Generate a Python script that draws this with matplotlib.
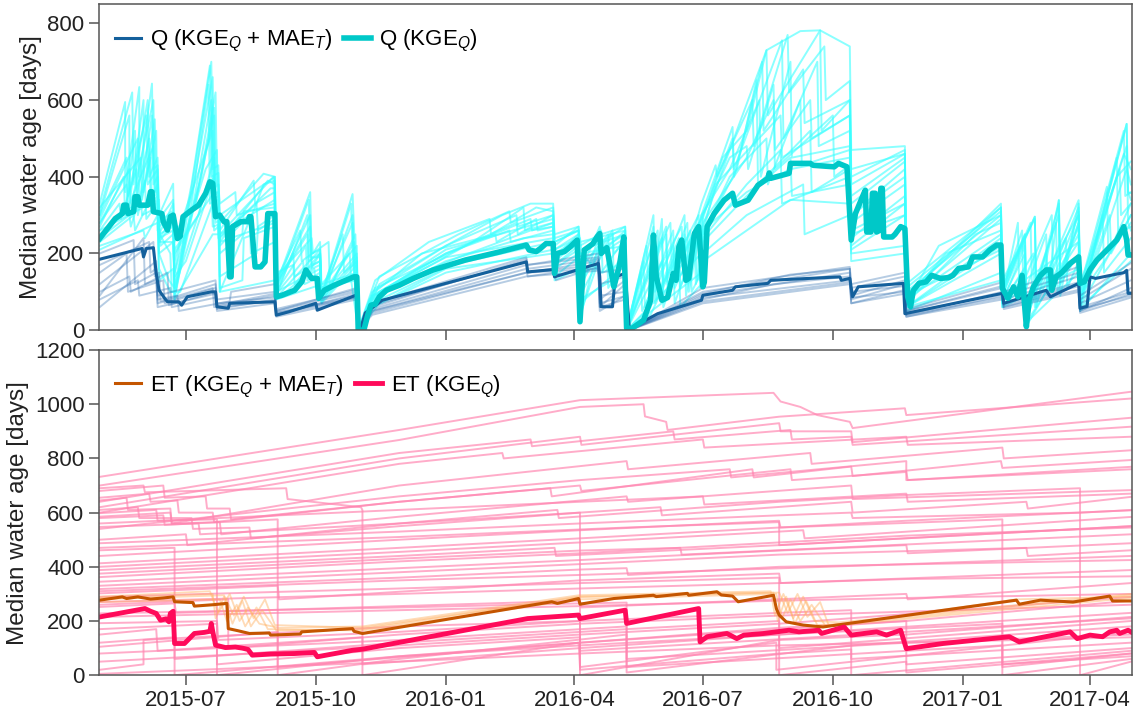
import numpy as np
import pandas as pd
import matplotlib
matplotlib.use('Agg')
import matplotlib.pyplot as plt
import matplotlib.dates as mdates

plt.rcParams['font.family'] = ['Liberation Sans', 'DejaVu Sans']
plt.rcParams['mathtext.fontset'] = 'custom'
plt.rcParams['mathtext.rm'] = 'Liberation Sans'
plt.rcParams['mathtext.it'] = 'Liberation Sans:italic'

# ===========================
# Data: (date, median water age [days]) breakpoints

# Q median, KGE_Q + MAE_T
q_kge_mae = [("2015-05-01",185),("2015-05-31",213),("2015-06-01",191),("2015-06-03",213),("2015-06-08",215),
    ("2015-06-10",148),("2015-06-12",104),("2015-06-16",83),("2015-06-18",74),("2015-06-26",74),("2015-06-28",65),
    ("2015-07-02",87),("2015-07-19",100),("2015-07-22",100),("2015-07-23",61),("2015-07-31",57),("2015-08-01",70),
    ("2015-09-02",74),("2015-09-03",39),("2015-09-12",48),("2015-10-01",70),("2015-10-02",52),("2015-10-30",92),
    ("2015-10-31",0),("2015-11-02",8),("2015-11-05",45),("2015-11-17",78),("2016-02-27",178),("2016-02-28",152),
    ("2016-03-17",158),("2016-03-18",139),("2016-04-18",174),("2016-04-19",139),("2016-04-20",61),("2016-04-28",61),
    ("2016-04-30",139),("2016-05-07",148),("2016-05-10",0),("2016-05-13",9),("2016-05-30",43),("2016-06-30",78),
    ("2016-07-01",91),("2016-07-22",104),("2016-07-24",113),("2016-08-16",122),("2016-08-18",130),("2016-10-06",139),
    ("2016-10-07",130),("2016-10-13",135),("2016-10-15",87),("2016-10-19",113),("2016-11-20",122),("2016-11-21",43),
    ("2017-01-29",96),("2017-01-30",70),("2017-03-01",104),("2017-03-04",87),("2017-03-24",122),("2017-03-25",57),
    ("2017-03-30",62),("2017-04-01",139),("2017-04-05",135),("2017-04-25",150),("2017-04-27",156),("2017-04-28",96),
    ("2017-04-30",96)]

# Q median, KGE_Q
q_kge = [("2015-05-01",239),("2015-05-12",291),("2015-05-17",304),("2015-05-18",326),("2015-05-20",326),
    ("2015-05-21",304),("2015-05-25",309),("2015-05-26",348),("2015-05-28",348),("2015-05-29",326),("2015-06-04",326),
    ("2015-06-06",361),("2015-06-07",361),("2015-06-08",309),("2015-06-14",304),("2015-06-15",283),("2015-06-18",261),
    ("2015-06-20",296),("2015-06-22",300),("2015-06-25",239),("2015-06-27",245),("2015-06-29",296),("2015-07-05",313),
    ("2015-07-10",326),("2015-07-15",357),("2015-07-18",387),("2015-07-20",383),("2015-07-22",296),("2015-07-25",300),
    ("2015-07-28",283),("2015-07-30",283),("2015-08-01",139),("2015-08-02",139),("2015-08-03",270),("2015-08-09",283),
    ("2015-08-14",283),("2015-08-15",296),("2015-08-16",296),("2015-08-19",165),("2015-08-23",165),("2015-08-26",178),
    ("2015-08-28",304),("2015-09-02",304),("2015-09-03",87),("2015-09-07",91),("2015-09-16",104),("2015-09-21",126),
    ("2015-09-24",157),("2015-09-28",135),("2015-10-02",135),("2015-10-03",83),("2015-10-07",104),("2015-10-14",117),
    ("2015-10-28",139),("2015-10-30",139),("2015-10-31",0),("2015-11-04",0),("2015-11-07",43),("2015-11-09",65),
    ("2015-11-12",68),("2015-11-15",87),("2015-11-20",104),("2015-11-29",117),("2015-12-09",135),("2015-12-23",157),
    ("2016-01-15",183),("2016-02-08",204),("2016-02-27",222),("2016-02-29",209),("2016-03-05",205),("2016-03-08",213),
    ("2016-03-12",226),("2016-03-17",226),("2016-03-18",148),("2016-03-20",200),("2016-03-25",205),("2016-03-29",217),
    ("2016-04-03",235),("2016-04-05",22),("2016-04-08",209),("2016-04-14",225),("2016-04-17",243),("2016-04-19",252),
    ("2016-04-20",200),("2016-04-24",215),("2016-04-29",113),("2016-05-03",170),("2016-05-06",243),("2016-05-08",5),
    ("2016-05-12",5),("2016-05-20",26),("2016-05-25",78),("2016-05-27",248),("2016-05-29",139),("2016-06-02",78),
    ("2016-06-06",85),("2016-06-10",148),("2016-06-12",130),("2016-06-14",217),("2016-06-16",235),("2016-06-19",130),
    ("2016-06-21",135),("2016-06-25",252),("2016-06-28",270),("2016-07-01",113),("2016-07-02",125),("2016-07-04",270),
    ("2016-07-09",304),("2016-07-16",339),("2016-07-22",357),("2016-07-24",326),("2016-08-02",339),("2016-08-09",378),
    ("2016-08-16",396),("2016-08-17",410),("2016-08-18",396),("2016-08-31",409),("2016-09-01",435),("2016-09-15",435),
    ("2016-09-17",430),("2016-10-02",426),("2016-10-05",435),("2016-10-11",426),("2016-10-14",235),("2016-10-17",304),
    ("2016-10-23",357),("2016-10-24",365),("2016-10-25",256),("2016-10-28",256),("2016-10-29",357),("2016-10-31",357),
    ("2016-11-01",256),("2016-11-03",260),("2016-11-04",370),("2016-11-05",370),("2016-11-06",243),("2016-11-12",243),
    ("2016-11-14",250),("2016-11-18",270),("2016-11-21",265),("2016-11-23",87),("2016-11-25",61),("2016-11-27",104),
    ("2016-12-01",122),("2016-12-06",126),("2016-12-10",143),("2016-12-16",135),("2016-12-22",137),("2016-12-25",143),
    ("2016-12-29",161),("2017-01-05",165),("2017-01-08",191),("2017-01-15",191),("2017-01-20",209),("2017-01-25",222),
    ("2017-01-28",222),("2017-01-29",109),("2017-02-02",83),("2017-02-06",113),("2017-02-09",87),("2017-02-12",143),
    ("2017-02-15",9),("2017-02-17",80),("2017-02-20",113),("2017-02-25",143),("2017-03-01",157),("2017-03-04",157),
    ("2017-03-05",104),("2017-03-08",139),("2017-03-12",150),("2017-03-18",174),("2017-03-24",191),("2017-03-25",122),
    ("2017-03-28",126),("2017-04-01",157),("2017-04-06",183),("2017-04-13",209),("2017-04-20",235),("2017-04-25",270),
    ("2017-04-27",235),("2017-04-28",196),("2017-04-30",196)]

# ET median, KGE_Q + MAE_T
et_kge_mae = [("2015-05-01",277),("2015-05-17",289),("2015-05-20",283),("2015-05-28",289),("2015-06-06",281),
    ("2015-06-15",285),("2015-06-22",289),("2015-06-23",271),("2015-07-06",268),("2015-07-07",255),("2015-07-20",260),
    ("2015-07-30",265),("2015-07-31",172),("2015-08-07",164),("2015-08-15",154),("2015-08-29",156),("2015-08-30",148),
    ("2015-09-20",152),("2015-09-21",160),("2015-10-27",172),("2015-10-28",162),("2015-11-03",154),("2016-03-16",271),
    ("2016-03-20",265),("2016-04-04",283),("2016-04-05",262),("2016-04-29",283),("2016-05-27",295),("2016-05-29",290),
    ("2016-06-20",302),("2016-06-21",295),("2016-07-11",308),("2016-07-14",296),("2016-07-22",292),("2016-07-26",271),
    ("2016-08-20",295),("2016-08-22",246),("2016-08-24",222),("2016-08-29",197),("2016-09-10",185),("2016-09-24",178),
    ("2017-02-08",277),("2017-02-10",262),("2017-02-25",277),("2017-03-20",270),("2017-04-15",292),("2017-04-17",274),
    ("2017-04-30",274)]

# ET median, KGE_Q
et_kge = [("2015-05-01",215),("2015-06-02",246),("2015-06-06",236),("2015-06-10",228),("2015-06-13",203),
    ("2015-06-17",208),("2015-06-19",197),("2015-06-20",228),("2015-06-22",236),("2015-06-23",117),("2015-06-30",117),
    ("2015-07-07",154),("2015-07-14",158),("2015-07-18",162),("2015-07-19",191),("2015-07-20",162),("2015-07-22",111),
    ("2015-07-29",102),("2015-08-05",104),("2015-08-10",100),("2015-08-14",95),("2015-08-17",74),("2015-08-30",78),
    ("2015-09-16",80),("2015-09-30",84),("2015-10-02",68),("2015-10-27",92),("2015-11-03",96),("2016-02-28",209),
    ("2016-04-04",222),("2016-04-05",209),("2016-05-07",240),("2016-05-08",191),("2016-06-28",246),("2016-06-29",123),
    ("2016-07-04",142),("2016-07-18",154),("2016-07-25",135),("2016-07-30",148),("2016-08-13",154),("2016-08-31",166),
    ("2016-09-07",160),("2016-09-21",166),("2016-09-23",154),("2016-10-09",178),("2016-10-14",148),("2016-11-01",160),
    ("2016-11-08",148),("2016-11-18",166),("2016-11-22",98),("2016-12-18",117),("2017-02-03",142),("2017-02-10",123),
    ("2017-03-18",160),("2017-03-23",135),("2017-04-01",148),("2017-04-10",142),("2017-04-15",160),("2017-04-20",166),
    ("2017-04-22",154),("2017-04-28",166),("2017-04-30",160)]

# ensemble members (KGE_Q), discharge
q_members = [
    [("2015-05-01",330),("2015-05-19",595),("2015-05-19",360),("2015-05-29",634),("2015-05-29",400),("2015-06-07",643),
     ("2015-06-08",420),("2015-06-11",430),("2015-06-12",240),("2015-06-22",290),("2015-06-23",80),("2015-07-02",300),
     ("2015-07-19",700),("2015-07-20",420),("2015-07-24",430),("2015-07-25",250),("2015-09-01",400),("2015-09-03",120),
     ("2015-09-27",360),("2015-09-28",200),("2015-10-04",210),("2015-10-05",90),("2015-10-27",355),("2015-10-31",0),
     ("2015-11-15",120),("2016-01-01",220),("2016-02-10",300),("2016-03-01",330),("2016-03-17",330),("2016-03-18",230),
     ("2016-04-04",260),("2016-04-05",30),("2016-04-20",250),("2016-05-07",270),("2016-05-08",0),("2016-05-25",60),
     ("2016-06-02",290),("2016-06-03",120),("2016-06-20",280),("2016-06-21",100),("2016-06-30",280),("2016-07-15",450),
     ("2016-08-01",520),("2016-08-15",730),("2016-09-08",780),("2016-09-22",782),("2016-10-13",740),("2016-10-14",470),
     ("2016-11-21",480),("2016-11-22",90),("2017-01-28",330),("2017-01-29",110),("2017-02-21",296),("2017-02-22",60),
     ("2017-03-10",339),("2017-03-11",90),("2017-03-24",330),("2017-03-25",80),("2017-04-27",538),("2017-04-28",360),
     ("2017-04-30",357)],
    [("2015-05-01",300),("2015-05-22",560),("2015-05-22",330),("2015-06-01",600),("2015-06-01",360),("2015-06-10",520),
     ("2015-06-11",260),("2015-06-20",200),("2015-06-21",100),("2015-06-24",100),("2015-07-03",280),("2015-07-17",640),
     ("2015-07-18",330),("2015-07-24",340),("2015-07-25",100),("2015-08-20",330),("2015-08-25",380),("2015-09-02",390),
     ("2015-09-03",90),("2015-09-25",300),("2015-09-26",180),("2015-10-04",200),("2015-10-05",70),("2015-10-28",230),
     ("2015-10-31",0),("2015-11-10",90),("2016-01-01",200),("2016-02-20",280),("2016-02-21",250),("2016-03-17",300),
     ("2016-03-18",170),("2016-04-04",220),("2016-04-05",200),("2016-04-20",150),("2016-05-07",240),("2016-05-08",0),
     ("2016-05-28",250),("2016-05-29",80),("2016-06-18",250),("2016-06-19",90),("2016-06-30",300),("2016-07-20",420),
     ("2016-08-10",600),("2016-08-11",400),("2016-09-01",700),("2016-09-02",450),("2016-10-13",480),("2016-10-14",300),
     ("2016-11-21",400),("2016-11-22",70),("2017-01-10",250),("2017-01-28",280),("2017-01-29",90),("2017-02-14",250),
     ("2017-02-15",20),("2017-03-01",200),("2017-03-02",100),("2017-03-24",300),("2017-03-25",70),("2017-04-20",400),
     ("2017-04-30",440)],
    [("2015-05-01",260),("2015-05-15",330),("2015-05-16",290),("2015-05-27",420),("2015-05-28",300),("2015-06-06",450),
     ("2015-06-07",320),("2015-06-12",340),("2015-06-13",220),("2015-06-22",250),("2015-06-23",120),("2015-07-01",250),
     ("2015-07-15",420),("2015-07-23",470),("2015-07-24",240),("2015-08-20",330),("2015-08-21",260),("2015-09-02",290),
     ("2015-09-03",100),("2015-09-24",220),("2015-09-25",130),("2015-10-04",150),("2015-10-05",70),("2015-10-30",170),
     ("2015-10-31",0),("2015-11-20",110),("2016-01-10",190),("2016-03-01",260),("2016-03-17",270),("2016-03-18",190),
     ("2016-04-04",250),("2016-04-05",120),("2016-04-28",250),("2016-04-29",120),("2016-05-07",200),("2016-05-08",0),
     ("2016-05-20",180),("2016-05-21",60),("2016-06-10",260),("2016-06-11",110),("2016-06-30",260),("2016-07-01",250),
     ("2016-07-25",420),("2016-08-08",652),("2016-08-09",380),("2016-09-15",520),("2016-09-16",360),("2016-10-13",420),
     ("2016-10-14",220),("2016-11-21",330),("2016-11-22",60),("2017-01-28",240),("2017-01-29",70),("2017-02-14",220),
     ("2017-02-15",10),("2017-03-24",250),("2017-03-25",60),("2017-04-27",420),("2017-04-30",380)],
    [("2015-05-01",220),("2015-06-01",260),("2015-06-02",240),("2015-06-11",300),("2015-06-12",160),("2015-06-20",100),
     ("2015-06-27",100),("2015-07-20",330),("2015-07-21",260),("2015-07-24",270),("2015-07-25",110),("2015-08-10",130),
     ("2015-08-11",240),("2015-09-02",270),("2015-09-03",80),("2015-09-30",160),("2015-10-01",110),("2015-10-30",130),
     ("2015-10-31",0),("2015-11-10",60),("2016-01-01",150),("2016-03-17",210),("2016-03-18",160),("2016-04-04",200),
     ("2016-04-05",70),("2016-05-07",170),("2016-05-08",0),("2016-05-25",40),("2016-06-14",200),("2016-06-15",60),
     ("2016-06-30",120),("2016-07-01",200),("2016-08-01",300),("2016-09-10",380),("2016-09-11",250),("2016-10-13",300),
     ("2016-10-14",200),("2016-11-21",220),("2016-11-22",50),("2017-01-28",150),("2017-01-29",60),("2017-02-14",120),
     ("2017-02-15",20),("2017-03-24",150),("2017-03-25",50),("2017-04-30",200)],
    [("2015-05-01",310),("2015-05-24",620),("2015-05-25",380),("2015-06-04",600),("2015-06-05",400),("2015-06-11",450),
     ("2015-06-12",300),("2015-06-22",382),("2015-06-23",150),("2015-07-05",380),("2015-07-18",690),("2015-07-19",400),
     ("2015-07-24",410),("2015-07-25",280),("2015-08-25",408),("2015-09-02",400),("2015-09-03",130),("2015-09-20",260),
     ("2015-09-21",180),("2015-10-10",230),("2015-10-11",110),("2015-10-29",250),("2015-10-31",0),("2015-11-12",130),
     ("2015-12-20",230),("2016-02-01",290),("2016-02-02",250),("2016-03-05",320),("2016-03-17",310),("2016-03-18",220),
     ("2016-04-04",270),("2016-04-05",150),("2016-04-19",270),("2016-04-20",200),("2016-05-07",240),("2016-05-08",0),
     ("2016-05-27",270),("2016-05-28",100),("2016-06-18",300),("2016-06-19",140),("2016-06-30",300),("2016-07-22",530),
     ("2016-07-23",420),("2016-08-26",756),("2016-08-27",500),("2016-09-20",700),("2016-09-21",480),("2016-10-13",520),
     ("2016-10-14",400),("2016-11-21",470),("2016-11-22",100),("2017-01-28",300),("2017-01-29",100),("2017-02-21",296),
     ("2017-02-22",80),("2017-03-24",339),("2017-03-25",110),("2017-04-13",374),("2017-04-14",200),("2017-04-30",330)],
    [("2015-05-01",280),("2015-05-20",380),("2015-05-21",320),("2015-06-08",480),("2015-06-09",350),("2015-06-11",360),
     ("2015-06-12",200),("2015-06-22",230),("2015-06-23",90),("2015-07-03",260),("2015-07-21",560),("2015-07-22",320),
     ("2015-07-24",320),("2015-07-25",220),("2015-08-15",300),("2015-08-16",200),("2015-09-02",230),("2015-09-03",110),
     ("2015-09-27",300),("2015-09-28",160),("2015-10-04",170),("2015-10-05",80),("2015-10-27",300),("2015-10-28",180),
     ("2015-10-31",0),("2015-11-15",100),("2016-01-01",200),("2016-02-15",260),("2016-02-16",230),("2016-03-17",260),
     ("2016-03-18",210),("2016-04-04",240),("2016-04-05",180),("2016-04-28",230),("2016-05-07",250),("2016-05-08",0),
     ("2016-06-02",240),("2016-06-03",90),("2016-06-25",250),("2016-06-26",120),("2016-06-30",180),("2016-07-01",280),
     ("2016-08-01",450),("2016-08-20",600),("2016-08-21",420),("2016-10-01",560),("2016-10-02",400),("2016-10-13",430),
     ("2016-10-14",280),("2016-11-21",380),("2016-11-22",80),("2016-12-20",200),("2017-01-28",260),("2017-01-29",80),
     ("2017-02-14",200),("2017-02-15",30),("2017-03-01",170),("2017-03-02",90),("2017-03-10",339),("2017-03-11",120),
     ("2017-03-24",200),("2017-03-25",70),("2017-04-27",538),("2017-04-28",280),("2017-04-30",260)],
    [("2015-05-01",240),("2015-05-22",300),("2015-05-23",270),("2015-06-02",390),("2015-06-03",290),("2015-06-11",330),
     ("2015-06-12",240),("2015-06-22",260),("2015-06-23",200),("2015-07-10",300),("2015-07-21",450),("2015-07-22",300),
     ("2015-07-24",300),("2015-07-25",250),("2015-09-02",340),("2015-09-03",150),("2015-09-15",170),("2015-09-16",120),
     ("2015-10-04",200),("2015-10-05",90),("2015-10-30",200),("2015-10-31",0),("2015-11-08",80),("2016-01-01",210),
     ("2016-03-17",290),("2016-03-18",240),("2016-04-04",260),("2016-04-05",40),("2016-04-20",200),("2016-05-07",260),
     ("2016-05-08",0),("2016-05-15",100),("2016-05-30",260),("2016-05-31",100),("2016-06-28",300),("2016-06-29",110),
     ("2016-07-01",250),("2016-07-20",400),("2016-08-15",500),("2016-08-16",380),("2016-09-08",600),("2016-09-09",430),
     ("2016-10-13",470),("2016-10-14",250),("2016-11-21",300),("2016-11-22",90),("2017-01-28",210),("2017-01-29",80),
     ("2017-02-09",280),("2017-02-10",100),("2017-03-05",300),("2017-03-06",110),("2017-03-24",270),("2017-03-25",60),
     ("2017-04-20",450),("2017-04-21",250),("2017-04-30",270)],
    [("2015-05-01",290),("2015-05-28",500),("2015-05-29",330),("2015-06-07",560),("2015-06-08",380),("2015-06-11",400),
     ("2015-06-12",230),("2015-06-22",280),("2015-06-23",110),("2015-07-05",300),("2015-07-19",600),("2015-07-20",340),
     ("2015-07-24",350),("2015-07-25",230),("2015-08-28",390),("2015-09-02",380),("2015-09-03",100),("2015-09-15",200),
     ("2015-09-16",140),("2015-10-04",180),("2015-10-05",75),("2015-10-30",180),("2015-10-31",0),("2015-11-12",90),
     ("2016-01-20",230),("2016-02-25",320),("2016-02-26",260),("2016-03-17",280),("2016-03-18",200),("2016-04-05",240),
     ("2016-04-06",210),("2016-05-07",250),("2016-05-08",0),("2016-05-27",200),("2016-05-28",70),("2016-06-14",240),
     ("2016-06-15",110),("2016-06-30",260),("2016-07-15",420),("2016-08-15",730),("2016-08-16",560),("2016-09-22",782),
     ("2016-09-23",520),("2016-10-13",600),("2016-10-14",300),("2016-11-21",420),("2016-11-22",110),("2017-01-28",310),
     ("2017-01-29",120),("2017-02-14",250),("2017-02-15",60),("2017-03-24",300),("2017-03-25",100),("2017-04-25",460),
     ("2017-04-30",420)],
    [("2015-05-01",210),("2015-06-11",280),("2015-06-12",130),("2015-06-22",160),("2015-06-23",80),("2015-07-20",250),
     ("2015-07-25",250),("2015-07-25",100),("2015-09-02",130),("2015-09-03",80),("2015-10-30",150),("2015-10-31",0),
     ("2015-11-15",70),("2016-01-01",160),("2016-03-17",200),("2016-03-18",130),("2016-04-04",160),("2016-04-05",80),
     ("2016-05-07",150),("2016-05-08",0),("2016-06-30",150),("2016-07-01",180),("2016-08-01",260),("2016-09-01",340),
     ("2016-10-13",330),("2016-10-14",180),("2016-11-21",200),("2016-11-22",60),("2017-01-28",130),("2017-01-29",60),
     ("2017-03-24",160),("2017-03-25",60),("2017-04-30",180)],
    [("2015-05-01",320),("2015-05-30",450),("2015-05-31",340),("2015-06-09",550),("2015-06-10",360),("2015-06-11",370),
     ("2015-06-12",250),("2015-06-22",330),("2015-06-23",230),("2015-07-20",520),("2015-07-21",350),("2015-07-24",360),
     ("2015-07-25",300),("2015-09-02",400),("2015-09-03",120),("2015-09-25",250),("2015-09-26",150),("2015-10-04",200),
     ("2015-10-05",100),("2015-10-20",250),("2015-10-21",150),("2015-10-30",180),("2015-10-31",0),("2015-11-10",100),
     ("2016-01-01",220),("2016-02-20",300),("2016-02-21",270),("2016-03-17",300),("2016-03-18",230),("2016-04-04",260),
     ("2016-04-05",230),("2016-05-07",260),("2016-05-08",0),("2016-06-05",270),("2016-06-06",120),("2016-06-30",240),
     ("2016-07-10",380),("2016-08-25",560),("2016-08-26",450),("2016-10-13",560),("2016-10-14",350),("2016-11-21",450),
     ("2016-11-22",80),("2017-01-28",290),("2017-01-29",90),("2017-02-14",230),("2017-02-15",40),("2017-03-08",280),
     ("2017-03-09",100),("2017-03-24",280),("2017-03-25",90),("2017-04-27",480),("2017-04-28",360),("2017-04-30",340)],
    [("2015-05-01",270),("2015-05-18",400),("2015-05-19",300),("2015-05-26",520),("2015-05-27",350),("2015-06-05",500),
     ("2015-06-06",330),("2015-06-11",350),("2015-06-12",280),("2015-06-21",310),("2015-06-22",250),("2015-07-08",330),
     ("2015-07-22",620),("2015-07-23",380),("2015-07-24",380),("2015-07-25",330),("2015-08-05",360),("2015-08-06",300),
     ("2015-09-02",330),("2015-09-03",140),("2015-09-28",240),("2015-09-29",200),("2015-10-04",230),("2015-10-05",120),
     ("2015-10-30",220),("2015-10-31",0),("2015-11-12",100),("2015-12-15",200),("2016-02-05",250),("2016-02-06",230),
     ("2016-03-05",290),("2016-03-06",260),("2016-03-17",270),("2016-03-18",180),("2016-04-04",230),("2016-04-05",160),
     ("2016-04-25",250),("2016-04-26",140),("2016-05-07",210),("2016-05-08",0),("2016-05-22",220),("2016-05-23",150),
     ("2016-06-08",280),("2016-06-09",150),("2016-06-30",290),("2016-07-01",300),("2016-07-20",450),("2016-08-01",480),
     ("2016-08-02",420),("2016-08-20",640),("2016-08-21",470),("2016-09-15",600),("2016-09-16",500),("2016-10-13",560),
     ("2016-10-14",330),("2016-11-21",440),("2016-11-22",70),("2016-12-15",220),("2017-01-28",300),("2017-01-29",100),
     ("2017-02-12",260),("2017-02-13",90),("2017-03-01",250),("2017-03-02",120),("2017-03-24",320),("2017-03-25",80),
     ("2017-04-15",300),("2017-04-16",200),("2017-04-30",300)],
    [("2015-05-01",250),("2015-05-30",340),("2015-05-31",300),("2015-06-11",320),("2015-06-12",200),("2015-06-19",130),
     ("2015-06-23",110),("2015-07-15",360),("2015-07-21",400),("2015-07-22",280),("2015-07-24",285),("2015-07-25",200),
     ("2015-08-10",250),("2015-08-11",310),("2015-09-02",320),("2015-09-03",95),("2015-09-22",180),("2015-09-23",120),
     ("2015-10-04",140),("2015-10-05",90),("2015-10-25",200),("2015-10-26",130),("2015-10-31",0),("2015-11-10",80),
     ("2016-01-01",180),("2016-02-25",240),("2016-03-17",250),("2016-03-18",140),("2016-04-04",190),("2016-04-05",100),
     ("2016-04-20",260),("2016-04-21",150),("2016-05-07",180),("2016-05-08",0),("2016-06-02",180),("2016-06-03",60),
     ("2016-06-22",260),("2016-06-23",100),("2016-06-30",150),("2016-07-01",240),("2016-08-01",380),("2016-08-25",470),
     ("2016-08-26",330),("2016-10-13",400),("2016-10-14",240),("2016-11-21",350),("2016-11-22",60),("2017-01-28",220),
     ("2017-01-29",70),("2017-02-20",200),("2017-02-21",60),("2017-03-15",240),("2017-03-16",110),("2017-03-24",180),
     ("2017-03-25",70),("2017-04-10",300),("2017-04-11",150),("2017-04-30",240)],
    [("2015-05-01",300),("2015-05-20",450),("2015-05-21",350),("2015-06-03",560),("2015-06-04",380),("2015-06-11",420),
     ("2015-06-12",290),("2015-06-22",340),("2015-06-23",180),("2015-07-05",350),("2015-07-20",660),("2015-07-21",370),
     ("2015-07-24",380),("2015-07-25",260),("2015-08-18",390),("2015-08-19",330),("2015-09-02",360),("2015-09-03",110),
     ("2015-09-26",340),("2015-09-27",190),("2015-10-04",190),("2015-10-05",85),("2015-10-26",330),("2015-10-27",200),
     ("2015-10-31",0),("2015-11-15",140),("2016-01-10",250),("2016-02-15",310),("2016-02-16",280),("2016-03-17",320),
     ("2016-03-18",250),("2016-04-04",270),("2016-04-05",220),("2016-04-19",250),("2016-04-20",230),("2016-05-07",270),
     ("2016-05-08",0),("2016-05-27",300),("2016-05-28",140),("2016-06-16",270),("2016-06-17",160),("2016-06-30",330),
     ("2016-07-10",430),("2016-07-11",400),("2016-08-05",600),("2016-08-06",480),("2016-08-30",770),("2016-08-31",620),
     ("2016-09-25",740),("2016-09-26",600),("2016-10-13",650),("2016-10-14",420),("2016-11-21",460),("2016-11-22",120),
     ("2017-01-28",320),("2017-01-29",130),("2017-02-21",290),("2017-02-22",110),("2017-03-10",330),("2017-03-11",150),
     ("2017-03-24",280),("2017-03-25",120),("2017-04-22",420),("2017-04-23",300),("2017-04-30",330)],
    [("2015-05-01",230),("2015-05-25",300),("2015-05-26",260),("2015-06-11",380),("2015-06-12",230),("2015-06-22",230),
     ("2015-06-23",140),("2015-07-01",180),("2015-07-19",380),("2015-07-20",270),("2015-07-24",275),("2015-07-25",140),
     ("2015-08-20",200),("2015-08-21",270),("2015-09-02",300),("2015-09-03",85),("2015-10-04",210),("2015-10-05",80),
     ("2015-10-30",190),("2015-10-31",0),("2015-11-10",70),("2016-01-05",170),("2016-03-17",230),("2016-03-18",170),
     ("2016-04-04",210),("2016-04-05",90),("2016-04-24",220),("2016-04-25",110),("2016-05-07",180),("2016-05-08",0),
     ("2016-05-18",150),("2016-05-19",50),("2016-06-10",220),("2016-06-11",70),("2016-06-26",230),("2016-06-27",130),
     ("2016-06-30",200),("2016-07-01",230),("2016-08-01",350),("2016-09-01",450),("2016-09-02",350),("2016-10-13",380),
     ("2016-10-14",210),("2016-11-21",300),("2016-11-22",60),("2017-01-28",200),("2017-01-29",70),("2017-02-14",160),
     ("2017-02-15",20),("2017-03-24",230),("2017-03-25",60),("2017-04-30",300)],
    [("2015-05-01",280),("2015-05-22",420),("2015-05-23",320),("2015-06-08",600),("2015-06-09",360),("2015-06-11",370),
     ("2015-06-12",270),("2015-06-22",300),("2015-06-23",150),("2015-07-12",400),("2015-07-21",580),("2015-07-22",360),
     ("2015-07-24",360),("2015-07-25",240),("2015-08-30",370),("2015-09-02",370),("2015-09-03",125),("2015-09-27",270),
     ("2015-09-28",170),("2015-10-04",180),("2015-10-05",95),("2015-10-27",280),("2015-10-28",160),("2015-10-31",0),
     ("2015-11-12",110),("2016-01-15",220),("2016-03-01",290),("2016-03-02",260),("2016-03-17",280),("2016-03-18",210),
     ("2016-04-04",250),("2016-04-05",130),("2016-04-28",260),("2016-04-29",200),("2016-05-07",230),("2016-05-08",0),
     ("2016-06-05",250),("2016-06-06",110),("2016-06-28",280),("2016-06-29",130),("2016-07-01",300),("2016-07-22",500),
     ("2016-07-23",400),("2016-08-12",700),("2016-08-13",520),("2016-09-10",680),("2016-09-11",540),("2016-10-13",600),
     ("2016-10-14",380),("2016-11-21",460),("2016-11-22",90),("2017-01-28",320),("2017-01-29",110),("2017-02-18",280),
     ("2017-02-19",100),("2017-03-10",300),("2017-03-11",130),("2017-03-24",310),("2017-03-25",100),("2017-04-25",520),
     ("2017-04-26",350),("2017-04-30",360)],
    [("2015-05-01",260),("2015-06-11",340),("2015-06-12",250),("2015-06-22",270),("2015-06-23",210),("2015-07-21",360),
     ("2015-07-22",300),("2015-07-25",300),("2015-07-25",230),("2015-09-02",280),("2015-09-03",100),("2015-10-04",160),
     ("2015-10-05",100),("2015-10-30",150),("2015-10-31",0),("2015-11-10",90),("2016-01-01",190),("2016-03-17",240),
     ("2016-03-18",200),("2016-04-04",220),("2016-04-05",200),("2016-05-07",220),("2016-05-08",0),("2016-06-30",200),
     ("2016-07-01",260),("2016-08-01",360),("2016-09-01",420),("2016-10-13",450),("2016-10-14",260),("2016-11-21",330),
     ("2016-11-22",80),("2017-01-28",250),("2017-01-29",90),("2017-03-24",230),("2017-03-25",90),("2017-04-30",280)],
]

# ensemble members (KGE_Q + MAE_T), discharge
q2_members = [
    [("2015-05-01",200),("2015-05-25",235),("2015-05-26",120),("2015-06-10",150),("2015-06-11",60),("2015-07-22",95),
     ("2015-07-23",55),("2015-09-02",80),("2015-09-03",40),("2015-10-30",95),("2015-10-31",0),("2015-11-10",60),
     ("2016-02-27",185),("2016-02-28",150),("2016-04-18",180),("2016-04-19",60),("2016-05-07",120),("2016-05-10",0),
     ("2016-07-01",90),("2016-10-13",150),("2016-10-14",90),("2016-11-21",130),("2016-11-22",40),("2017-01-29",100),
     ("2017-01-30",70),("2017-03-24",125),("2017-03-25",60),("2017-04-30",100)],
    [("2015-05-01",90),("2015-06-01",240),("2015-06-02",120),("2015-06-10",130),("2015-06-11",70),("2015-07-20",110),
     ("2015-07-21",60),("2015-09-02",90),("2015-09-03",50),("2015-10-30",100),("2015-10-31",0),("2015-11-10",50),
     ("2016-02-27",160),("2016-02-28",140),("2016-03-18",150),("2016-03-19",130),("2016-04-18",165),("2016-04-19",70),
     ("2016-05-08",90),("2016-05-10",0),("2016-07-01",80),("2016-08-20",120),("2016-10-13",140),("2016-10-14",80),
     ("2016-11-21",120),("2016-11-22",50),("2017-01-29",110),("2017-01-30",80),("2017-03-24",140),("2017-03-25",70),
     ("2017-04-30",130)],
    [("2015-05-01",60),("2015-06-10",180),("2015-06-11",80),("2015-06-25",90),("2015-06-26",50),("2015-08-01",75),
     ("2015-08-02",100),("2015-09-02",120),("2015-09-03",50),("2015-10-30",110),("2015-10-31",0),("2015-11-10",70),
     ("2016-02-27",190),("2016-02-28",170),("2016-04-18",200),("2016-04-19",150),("2016-05-07",160),("2016-05-10",0),
     ("2016-07-01",100),("2016-10-13",160),("2016-10-14",110),("2016-11-21",140),("2016-11-22",50),("2017-01-29",115),
     ("2017-01-30",90),("2017-03-24",150),("2017-03-25",80),("2017-04-30",160)],
    [("2015-05-01",150),("2015-05-20",200),("2015-05-21",100),("2015-06-15",130),("2015-06-16",70),("2015-07-22",110),
     ("2015-07-23",70),("2015-09-02",85),("2015-09-03",45),("2015-10-30",90),("2015-10-31",0),("2015-11-10",55),
     ("2016-02-27",170),("2016-04-18",190),("2016-04-19",80),("2016-05-07",130),("2016-05-10",0),("2016-07-01",85),
     ("2016-10-13",130),("2016-10-14",100),("2016-11-21",115),("2016-11-22",35),("2017-01-29",90),("2017-01-30",60),
     ("2017-03-24",115),("2017-03-25",55),("2017-04-30",90)],
    [("2015-05-01",120),("2015-06-08",230),("2015-06-09",140),("2015-06-12",150),("2015-06-13",75),("2015-07-22",120),
     ("2015-07-23",65),("2015-09-02",95),("2015-09-03",45),("2015-10-30",85),("2015-10-31",0),("2015-11-10",45),
     ("2016-02-27",150),("2016-04-18",160),("2016-04-19",90),("2016-05-07",100),("2016-05-10",0),("2016-07-01",95),
     ("2016-09-01",145),("2016-10-13",160),("2016-10-14",70),("2016-11-21",105),("2016-11-22",45),("2017-01-29",95),
     ("2017-01-30",65),("2017-03-24",120),("2017-03-25",50),("2017-04-30",110)],
    [("2015-05-01",80),("2015-05-28",130),("2015-05-29",90),("2015-06-20",110),("2015-06-21",60),("2015-07-22",85),
     ("2015-07-23",50),("2015-09-02",70),("2015-09-03",35),("2015-10-30",80),("2015-10-31",0),("2015-11-10",40),
     ("2016-02-27",140),("2016-04-18",155),("2016-04-19",60),("2016-05-07",80),("2016-05-10",0),("2016-07-01",75),
     ("2016-10-13",125),("2016-10-14",85),("2016-11-21",100),("2016-11-22",40),("2017-01-29",85),("2017-01-30",55),
     ("2017-03-24",100),("2017-03-25",45),("2017-04-30",85)],
    [("2015-05-01",170),("2015-06-05",230),("2015-06-06",150),("2015-06-10",160),("2015-06-11",90),("2015-07-22",130),
     ("2015-07-23",80),("2015-09-02",100),("2015-09-03",55),("2015-10-30",105),("2015-10-31",0),("2015-11-10",65),
     ("2016-02-27",180),("2016-02-28",160),("2016-04-18",185),("2016-04-19",120),("2016-05-07",140),("2016-05-10",0),
     ("2016-07-01",110),("2016-10-13",165),("2016-10-14",120),("2016-11-21",150),("2016-11-22",55),("2017-01-29",125),
     ("2017-01-30",100),("2017-03-24",165),("2017-03-25",90),("2017-04-30",175)],
    [("2015-05-01",100),("2015-05-22",140),("2015-05-23",100),("2015-06-18",150),("2015-06-19",65),("2015-07-22",100),
     ("2015-07-23",60),("2015-09-02",75),("2015-09-03",40),("2015-10-30",85),("2015-10-31",0),("2015-11-10",50),
     ("2016-02-27",150),("2016-04-18",170),("2016-04-19",50),("2016-05-07",90),("2016-05-10",0),("2016-07-01",70),
     ("2016-10-13",120),("2016-10-14",70),("2016-11-21",95),("2016-11-22",35),("2017-01-29",80),("2017-01-30",60),
     ("2017-03-24",105),("2017-03-25",50),("2017-04-30",95)],
]

# ensemble members (KGE_Q), evapotranspiration
et_members = [
    [("2015-05-01",732),("2015-11-29",905),("2016-04-05",1015),("2016-08-20",1042),("2016-08-25",1010),("2016-09-08",990),
     ("2016-09-20",960),("2016-10-13",935),("2016-10-15",912),("2017-04-30",1046)],
    [("2015-05-01",700),("2015-11-29",868),("2016-04-05",990),("2016-05-20",1000),("2016-05-21",955),("2016-06-05",935),
     ("2016-06-06",905),("2016-08-24",954),("2016-11-21",985),("2016-11-22",960),("2017-04-30",1021)],
    [("2015-05-01",640),("2015-11-29",820),("2016-03-01",870),("2016-03-02",845),("2016-06-10",900),("2016-06-11",870),
     ("2016-09-01",905),("2016-09-02",870),("2016-10-14",880),("2016-10-15",850),("2017-04-30",917)],
    [("2015-05-01",600),("2015-11-29",780),("2016-02-10",820),("2016-02-11",800),("2016-07-01",870),("2016-07-02",840),
     ("2016-11-22",880),("2016-11-23",850),("2017-04-30",880)],
    [("2015-05-01",620),("2015-11-29",800),("2016-04-05",880),("2016-04-06",850),("2016-08-24",930),("2016-08-25",900),
     ("2016-10-14",900),("2016-10-15",860),("2017-04-30",950)],
    [("2015-05-01",585),("2015-06-20",600),("2015-06-21",560),("2015-11-29",700),("2016-05-08",790),("2016-05-09",760),
     ("2016-09-15",820),("2016-09-16",780),("2017-01-29",840),("2017-01-30",800),("2017-04-30",830)],
    [("2015-05-01",540),("2015-11-29",660),("2016-04-05",720),("2016-07-20",760),("2016-07-21",730),("2016-11-22",790),
     ("2016-11-22",720),("2017-04-30",760)],
    [("2015-05-01",690),("2015-06-01",700),("2015-06-02",675),("2015-09-10",690),("2015-09-11",650),("2015-11-02",620),
     ("2015-11-03",609),("2015-11-03",0),("2016-04-04",120),("2016-04-05",30),("2016-08-22",120),("2016-08-22",20),
     ("2017-04-30",160)],
    [("2015-05-01",680),("2015-06-15",700),("2015-06-16",655),("2015-07-15",660),("2015-07-16",615),("2015-08-01",615),
     ("2015-08-02",575),("2015-11-29",640),("2016-03-15",690),("2016-03-16",660),("2016-08-05",760),("2016-08-06",730),
     ("2016-10-14",770),("2016-10-15",735),("2017-01-28",790),("2017-01-29",765),("2017-04-30",794)],
    [("2015-05-01",655),("2015-06-05",670),("2015-06-06",640),("2015-06-25",645),("2015-06-26",600),("2015-07-20",600),
     ("2015-07-21",565),("2015-11-29",640),("2016-04-05",700),("2016-04-06",680),("2016-09-01",760),("2016-09-02",720),
     ("2016-11-22",750),("2016-11-23",720),("2017-04-30",769)],
    [("2015-05-01",645),("2015-05-20",655),("2015-05-21",610),("2015-06-20",615),("2015-06-21",560),("2015-07-25",565),
     ("2015-07-26",520),("2015-11-29",585),("2016-05-08",660),("2016-05-09",640),("2016-10-14",700),("2016-10-15",650),
     ("2017-04-30",683)],
    [("2015-05-01",610),("2015-05-28",620),("2015-05-29",580),("2015-07-05",580),("2015-07-06",540),("2015-08-15",545),
     ("2015-08-16",505),("2015-11-29",550),("2016-04-05",600),("2016-06-01",620),("2016-06-02",590),("2016-10-14",640),
     ("2016-10-15",600),("2017-02-15",640),("2017-02-16",615),("2017-04-30",658)],
    [("2015-05-01",598),("2015-06-10",610),("2015-06-11",570),("2015-07-23",575),("2015-07-23",0),("2015-11-29",70),
     ("2016-04-05",120),("2016-08-24",175),("2016-11-22",200),("2016-11-22",40),("2017-04-30",100)],
    [("2015-05-01",580),("2015-06-15",590),("2015-06-16",555),("2015-09-04",575),("2015-09-04",0),("2015-11-29",60),
     ("2016-05-08",150),("2016-05-08",10),("2016-10-14",110),("2017-04-30",180)],
    [("2015-05-01",560),("2015-11-29",610),("2016-04-05",640),("2016-07-01",660),("2016-07-02",630),("2016-11-22",670),
     ("2016-11-23",640),("2017-04-30",670)],
    [("2015-05-01",547),("2015-07-10",560),("2015-07-11",520),("2015-11-29",560),("2016-04-05",600),("2016-04-05",0),
     ("2016-08-24",130),("2016-11-22",150),("2017-04-30",215)],
    [("2015-05-01",500),("2015-07-01",520),("2015-07-02",480),("2015-11-29",560),("2016-03-20",610),("2016-03-21",580),
     ("2016-08-24",640),("2016-11-22",665),("2017-03-25",690),("2017-03-25",600),("2017-04-30",609)],
    [("2015-05-01",487),("2015-11-29",530),("2016-04-05",560),("2016-08-24",590),("2016-10-14",600),("2016-10-15",580),
     ("2017-03-25",600),("2017-03-25",0),("2017-04-30",50)],
    [("2015-05-01",470),("2015-11-29",510),("2016-05-08",545),("2016-08-24",565),("2016-08-25",545),("2017-01-29",575),
     ("2017-01-29",0),("2017-04-30",60)],
    [("2015-05-01",461),("2015-06-23",470),("2015-06-23",0),("2015-11-29",70),("2016-04-05",110),("2016-08-24",150),
     ("2017-04-30",230)],
    [("2015-05-01",440),("2015-11-29",500),("2016-04-05",535),("2016-08-24",570),("2016-08-24",480),("2017-04-30",550)],
    [("2015-05-01",413),("2015-11-29",470),("2016-04-05",505),("2016-08-24",545),("2016-11-22",570),("2017-04-30",609)],
    [("2015-05-01",400),("2015-11-29",455),("2016-04-05",490),("2016-08-24",530),("2016-09-10",535),("2016-09-11",505),
     ("2017-04-30",584)],
    [("2015-05-01",388),("2015-11-29",440),("2016-03-18",470),("2016-03-19",440),("2016-08-24",480),("2017-04-30",550)],
    [("2015-05-01",375),("2015-11-29",430),("2016-04-05",460),("2016-06-15",470),("2016-06-16",445),("2017-04-30",520)],
    [("2015-05-01",362),("2015-11-29",420),("2016-04-05",450),("2016-08-24",490),("2016-11-22",515),("2017-04-30",545)],
    [("2015-05-01",345),("2015-11-29",395),("2016-04-05",425),("2016-08-24",460),("2016-11-22",480),("2016-11-23",450),
     ("2017-04-30",487)],
    [("2015-05-01",330),("2015-11-29",380),("2016-04-05",410),("2016-08-24",445),("2017-02-15",470),("2017-02-16",440),
     ("2017-04-30",461)],
    [("2015-05-01",318),("2015-11-29",360),("2016-04-05",390),("2016-05-08",395),("2016-05-09",370),("2016-08-24",400),
     ("2017-04-30",425)],
    [("2015-05-01",310),("2015-11-29",350),("2016-04-05",370),("2016-11-22",410),("2017-04-30",440)],
    [("2015-05-01",302),("2015-09-04",330),("2015-09-05",280),("2016-04-05",350),("2016-08-24",375),("2016-08-25",340),
     ("2017-04-30",388)],
    [("2015-05-01",289),("2015-11-29",320),("2016-04-05",340),("2016-08-24",360),("2016-08-24",0),("2016-11-22",50),
     ("2016-11-22",10),("2017-04-30",80)],
    [("2015-05-01",270),("2015-11-29",300),("2016-04-05",320),("2016-08-24",340),("2016-11-22",355),("2017-04-30",365)],
    [("2015-05-01",260),("2015-07-31",280),("2015-07-31",100),("2015-11-29",150),("2016-04-05",190),("2016-08-24",220),
     ("2017-04-30",260)],
    [("2015-05-01",252),("2015-06-23",265),("2015-06-24",230),("2015-11-29",255),("2016-04-05",275),("2016-04-06",250),
     ("2016-11-22",300),("2016-11-23",280),("2017-04-30",340)],
    [("2015-05-01",228),("2015-11-29",250),("2016-04-05",265),("2016-05-08",268),("2016-05-08",60),("2016-11-22",120),
     ("2017-04-30",140)],
    [("2015-05-01",215),("2015-11-29",240),("2016-04-05",255),("2016-08-24",275),("2016-11-22",285),("2017-04-30",300)],
    [("2015-05-01",192),("2015-07-23",200),("2015-07-24",130),("2015-11-29",160),("2016-04-05",200),("2016-08-24",230),
     ("2016-10-14",240),("2016-10-14",60),("2017-04-30",120)],
    [("2015-05-01",170),("2015-07-23",190),("2015-07-23",40),("2015-11-29",100),("2016-04-05",140),("2016-04-05",20),
     ("2016-08-24",80),("2016-10-14",95),("2016-10-14",0),("2017-04-30",90)],
    [("2015-05-01",150),("2015-06-10",170),("2015-06-11",90),("2015-11-03",140),("2015-11-03",40),("2016-04-05",100),
     ("2016-08-24",150),("2017-01-29",190),("2017-01-29",30),("2017-04-30",80)],
    [("2015-05-01",120),("2015-06-23",140),("2015-06-23",60),("2015-11-29",120),("2016-05-08",170),("2016-08-24",200),
     ("2016-08-24",100),("2017-04-30",200)],
    [("2015-05-01",105),("2015-09-04",160),("2015-09-04",30),("2016-04-05",120),("2016-11-22",200),("2017-04-30",275)],
    [("2015-05-01",80),("2015-11-29",130),("2016-05-08",180),("2016-05-08",30),("2016-11-22",90),("2017-01-29",110),
     ("2017-01-29",40),("2017-04-30",70)],
    [("2015-05-01",50),("2015-11-29",110),("2016-04-05",150),("2016-08-24",190),("2017-04-30",289)],
    [("2015-05-01",20),("2015-06-01",40),("2015-06-01",130),("2015-11-29",180),("2016-04-05",200),("2016-04-05",90),
     ("2016-11-22",160),("2017-04-30",210)],
    [("2015-05-01",5),("2015-11-29",50),("2016-04-05",80),("2016-08-24",110),("2016-11-22",120),("2017-04-30",150)],
]

# ensemble members (KGE_Q + MAE_T), evapotranspiration
et2_members = [
    [("2015-05-01",285),("2015-06-22",295),("2015-07-20",300),("2015-07-22",210),("2015-07-28",290),("2015-08-03",190),
     ("2015-08-10",275),("2015-08-16",180),("2015-08-24",240),("2015-09-03",165),("2015-11-03",170),("2016-04-04",290),
     ("2016-08-20",305),("2016-08-23",200),("2016-08-29",290),("2016-09-04",190),("2016-09-12",275),("2016-09-20",185),
     ("2016-10-10",190),("2017-02-08",280),("2017-04-30",290)],
    [("2015-05-01",270),("2015-07-25",280),("2015-07-30",200),("2015-08-06",260),("2015-08-12",180),("2015-08-20",250),
     ("2015-08-28",170),("2015-11-03",165),("2016-04-04",280),("2016-08-22",300),("2016-08-26",210),("2016-09-01",280),
     ("2016-09-08",200),("2016-09-16",260),("2016-09-26",180),("2017-04-30",285)],
    [("2015-05-01",290),("2015-07-18",310),("2015-07-24",230),("2015-08-01",300),("2015-08-08",200),("2015-08-14",250),
     ("2015-08-22",190),("2015-09-05",175),("2015-11-03",180),("2016-04-04",295),("2016-08-18",310),("2016-08-21",220),
     ("2016-08-27",300),("2016-09-03",210),("2016-09-10",290),("2016-09-18",200),("2016-10-05",195),("2017-04-30",300)],
    [("2015-05-01",280),("2015-07-28",295),("2015-08-04",220),("2015-08-11",290),("2015-08-18",210),("2015-08-26",280),
     ("2015-09-02",185),("2015-11-03",175),("2016-04-04",288),("2016-08-24",305),("2016-08-30",230),("2016-09-06",300),
     ("2016-09-13",215),("2016-09-22",270),("2016-09-28",185),("2017-04-30",295)],
]

yticks_top = [0, 200, 400, 600, 800]
yticks_bottom = [0, 200, 400, 600, 800, 1000, 1200]


def to_xy(pts):
    d = pd.to_datetime([p[0] for p in pts])
    v = np.array([p[1] for p in pts], dtype=float)
    return d, v


def style_axis(ax):
    for s in ax.spines.values():
        s.set_color('#555555')
        s.set_linewidth(1.1)
    ax.tick_params(axis='both', which='major', direction='out', length=7, width=1.1,
                   color='#555555', labelsize=16, labelcolor='#222222')
    ax.xaxis.set_major_locator(mdates.MonthLocator(bymonth=[1, 4, 7, 10]))
    ax.xaxis.set_major_formatter(mdates.DateFormatter('%Y-%m'))
    ax.set_xlim(pd.Timestamp('2015-04-30 12:00'), pd.Timestamp('2017-05-01'))
    ax.set_ylabel('Median water age [days]', fontsize=17.5, color='#222222', labelpad=4)


fig = plt.figure(figsize=(11.38, 7.10), dpi=100)
ax1 = fig.add_axes([0.087, 0.535, 0.908, 0.459])
ax2 = fig.add_axes([0.087, 0.049, 0.908, 0.458])

# ===========================
# Top panel: discharge
for m in q_members:
    d, v = to_xy(m)
    ax1.plot(d, v, color='#3cffff', alpha=0.6, lw=1.4)
for m in q2_members:
    d, v = to_xy(m)
    ax1.plot(d, v, color='#2f6fb0', alpha=0.35, lw=1.4)
d, v = to_xy(q_kge_mae)
l1, = ax1.plot(d, v, color='#14609c', lw=2.2, label='Q ($\\mathrm{KGE}_{Q}$ + $\\mathrm{MAE}_{T}$)')
d, v = to_xy(q_kge)
l2, = ax1.plot(d, v, color='#00c8c8', lw=4, label='Q ($\\mathrm{KGE}_{Q}$)')
ax1.set_ylim(0, 850)
ax1.set_yticks(yticks_top)
style_axis(ax1)
ax1.tick_params(axis='x', labelbottom=False)
ax1.legend(handles=[l1, l2], loc='upper left', ncol=2, frameon=False, fontsize=16,
           handlelength=1.2, handletextpad=0.4, columnspacing=0.5, borderaxespad=0.3,
           bbox_to_anchor=(0.0, 0.975))

# ===========================
# Bottom panel: evapotranspiration
for m in et_members:
    d, v = to_xy(m)
    ax2.plot(d, v, color='#ff85b0', alpha=0.68, lw=1.4)
for m in et2_members:
    d, v = to_xy(m)
    ax2.plot(d, v, color='#ffb060', alpha=0.45, lw=1.3)
d, v = to_xy(et_kge_mae)
l3, = ax2.plot(d, v, color='#c45500', lw=2.2, label='ET ($\\mathrm{KGE}_{Q}$ + $\\mathrm{MAE}_{T}$)')
d, v = to_xy(et_kge)
l4, = ax2.plot(d, v, color='#ff0a5a', lw=3.5, label='ET ($\\mathrm{KGE}_{Q}$)')
ax2.set_ylim(0, 1200)
ax2.set_yticks(yticks_bottom)
style_axis(ax2)
ax2.legend(handles=[l3, l4], loc='upper left', ncol=2, frameon=False, fontsize=16,
           handlelength=1.2, handletextpad=0.4, columnspacing=0.5, borderaxespad=0.3,
           bbox_to_anchor=(0.0, 0.975))

fig.savefig('out.png', dpi=100)
